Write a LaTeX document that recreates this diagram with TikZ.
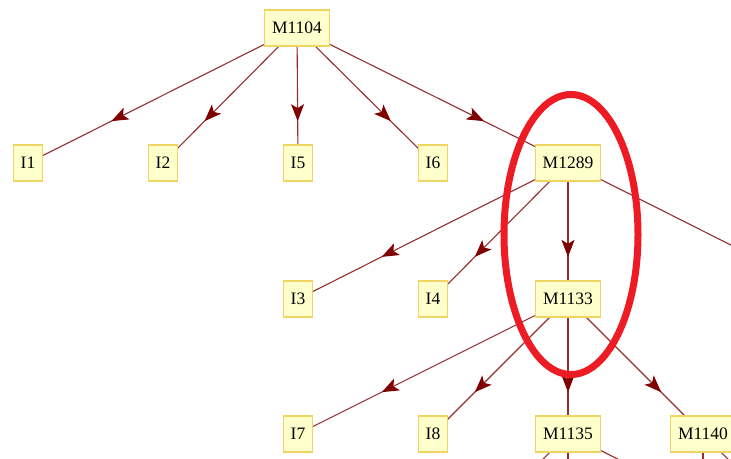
\documentclass[tikz,border=0pt]{standalone}
\usepackage{fontspec}
\setmainfont{Liberation Serif}
\usetikzlibrary{arrows.meta,decorations.markings}
\pgfdeclarelayer{background}
\pgfsetlayers{background,main}
\definecolor{boxfill}{RGB}{255,255,204}
\definecolor{boxline}{RGB}{240,212,100}
\definecolor{edgecol}{RGB}{150,45,45}
\definecolor{headcol}{RGB}{128,0,0}
\definecolor{ringcol}{RGB}{237,28,36}
\tikzset{
  treebox/.style={draw=boxline, fill=boxfill, line width=1.2pt, inner xsep=7.5pt, inner ysep=0pt,
    minimum height=36pt, font=\fontsize{17.5}{20}\selectfont, text=black},
  treeedge/.style={draw=edgecol, line width=1.1pt, postaction={decorate},
    decoration={markings, mark=at position 0.69 with {\arrow{Stealth[length=17pt,width=13pt,inset=4pt,color=headcol]}}}},
  ring/.style={draw=ringcol, line width=7pt}
}
\begin{document}
\begin{tikzpicture}[x=1pt,y=-1pt]
\useasboundingbox (0,0) rectangle (731,458);
\clip (0,0) rectangle (731,458);
\node[treebox] (M1104) at (297,28) {M1104};
\node[treebox] (I1) at (28,163) {I1};
\node[treebox] (I2) at (163,163) {I2};
\node[treebox] (I5) at (298,163) {I5};
\node[treebox] (I6) at (433,163) {I6};
\node[treebox] (M1289) at (568,163) {M1289};
\node[treebox] (I3) at (298,299) {I3};
\node[treebox] (I4) at (433,299) {I4};
\node[treebox] (M1133) at (568,299) {M1133};
\node[treebox] (I7) at (298,434) {I7};
\node[treebox] (I8) at (433,434) {I8};
\node[treebox] (M1135) at (568,434) {M1135};
\node[treebox] (M1140) at (703,434) {M1140};
\coordinate (R1) at (838,299);
\coordinate (B1) at (433,570);
\coordinate (B2) at (568,570);
\coordinate (B3) at (838,570);
\coordinate (B4) at (703,570);
\begin{pgfonlayer}{background}
\foreach \a/\b in {M1104/I1, M1104/I2, M1104/I5, M1104/I6, M1104/M1289,
                   M1289/I3, M1289/I4, M1289/M1133, M1289/R1,
                   M1133/I7, M1133/I8, M1133/M1135, M1133/M1140,
                   M1135/B1, M1135/B2, M1135/B3, M1140/B4, M1140/B3}
  \draw[treeedge] (\a.center) -- (\b.center);
\end{pgfonlayer}
\draw[ring] (571,234.5) ellipse [x radius=67, y radius=140];
\end{tikzpicture}
\end{document}
